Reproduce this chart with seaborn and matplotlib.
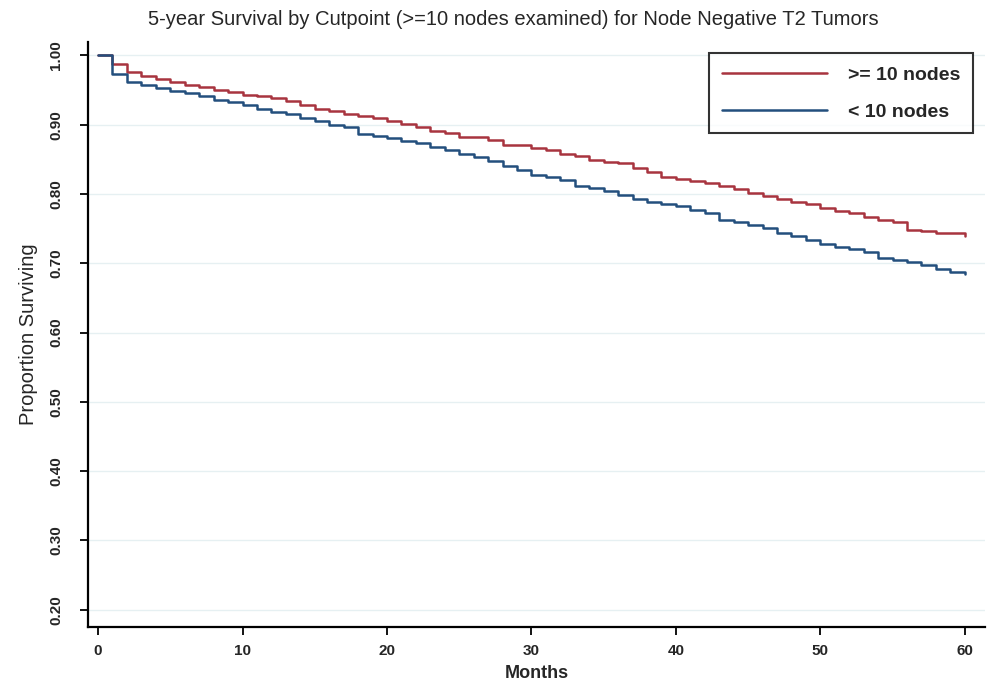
import numpy as np
import pandas as pd
import matplotlib
matplotlib.use('Agg')
import matplotlib.pyplot as plt
import seaborn as sns

# Kaplan-Meier estimates (value after the step at each month)
months = list(range(0, 61))
surv_ge10 = [1.000, 0.987, 0.976, 0.970, 0.966, 0.962, 0.957, 0.954, 0.950, 0.947,
             0.943, 0.941, 0.938, 0.934, 0.928, 0.922, 0.920, 0.915, 0.912, 0.909,
             0.906, 0.901, 0.897, 0.891, 0.888, 0.882, 0.882, 0.878, 0.871, 0.871,
             0.867, 0.863, 0.858, 0.855, 0.849, 0.846, 0.844, 0.837, 0.832, 0.824,
             0.821, 0.819, 0.816, 0.811, 0.807, 0.801, 0.797, 0.792, 0.788, 0.785,
             0.780, 0.775, 0.772, 0.767, 0.763, 0.760, 0.748, 0.747, 0.744, 0.744,
             0.740]
surv_lt10 = [1.000, 0.973, 0.962, 0.957, 0.953, 0.948, 0.946, 0.941, 0.936, 0.932,
             0.928, 0.923, 0.918, 0.915, 0.910, 0.905, 0.900, 0.896, 0.887, 0.884,
             0.881, 0.877, 0.873, 0.868, 0.863, 0.857, 0.853, 0.848, 0.841, 0.834,
             0.828, 0.824, 0.820, 0.811, 0.808, 0.804, 0.799, 0.793, 0.789, 0.785,
             0.782, 0.777, 0.772, 0.763, 0.759, 0.755, 0.751, 0.744, 0.740, 0.733,
             0.728, 0.724, 0.720, 0.716, 0.708, 0.705, 0.702, 0.697, 0.691, 0.688,
             0.684]
groups = ['>= 10 nodes', '< 10 nodes']
xticks = [0, 10, 20, 30, 40, 50, 60]
yticks = [0.20, 0.30, 0.40, 0.50, 0.60, 0.70, 0.80, 0.90, 1.00]

df = pd.DataFrame({
    'Months': months * 2,
    'Surv': surv_ge10 + surv_lt10,
    'Group': [groups[0]] * len(months) + [groups[1]] * len(months),
})

sns.set_style('white')
plt.rcParams['font.family'] = ['Liberation Sans', 'DejaVu Sans']

fig = plt.figure(figsize=(9.88, 6.84), dpi=100)
ax = fig.add_axes([0.089, 0.0833, 0.908, 0.855])

for y in yticks:
    ax.axhline(y, color='#e6f0f2', lw=1.0, zorder=0)

sns.lineplot(data=df, x='Months', y='Surv', hue='Group', hue_order=groups,
             palette=['#a8343f', '#234f7d'], drawstyle='steps-post',
             linewidth=1.8, ax=ax)

ax.set_xlim(-0.7, 61.4)
ax.set_ylim(0.175, 1.019)
ax.set_xticks(xticks)
ax.set_yticks(yticks)
ax.set_xticklabels([str(t) for t in xticks], fontsize=11, fontweight='bold',
                   family=['Liberation Sans Narrow', 'Liberation Sans'])
ax.set_yticklabels(['%.2f' % t for t in yticks], fontsize=11, fontweight='bold',
                   rotation=90, va='center',
                   family=['Liberation Sans Narrow', 'Liberation Sans'])
ax.tick_params(axis='both', direction='out', length=6, width=1.3, color='black',
               left=True, bottom=True)
ax.tick_params(axis='y', pad=12)
ax.tick_params(axis='x', pad=6)

for s in ['top', 'right']:
    ax.spines[s].set_visible(False)
for s in ['left', 'bottom']:
    ax.spines[s].set_color('black')
    ax.spines[s].set_linewidth(1.6)

ax.set_xlabel('Months', fontsize=13, fontweight='bold', labelpad=5)
ax.set_ylabel('Proportion Surviving', fontsize=14.5, labelpad=8)

fig.text(0.52, 0.972, '5-year Survival by Cutpoint (>=10 nodes examined) for Node Negative T2 Tumors',
         ha='center', va='center', fontsize=14.5)

leg = ax.legend(loc='upper right', bbox_to_anchor=(0.987, 0.981),
                prop={'weight': 'bold', 'size': 14}, frameon=True, fancybox=False,
                edgecolor='black', handlelength=5.4, handletextpad=1.1,
                borderpad=0.65, labelspacing=1.0, borderaxespad=0, title=None)
leg.get_frame().set_linewidth(1.5)

fig.savefig('out.png', dpi=100)
